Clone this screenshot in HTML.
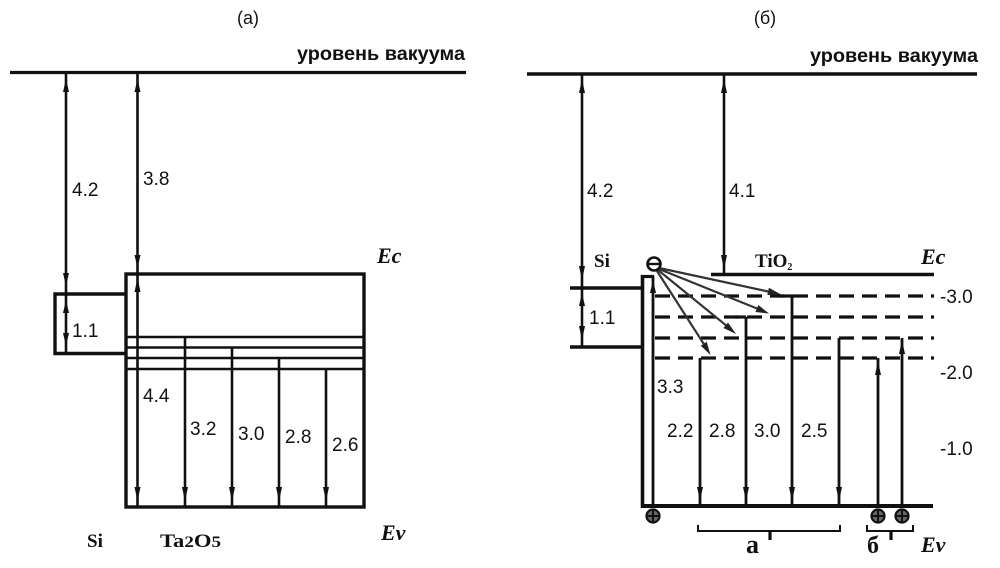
<!DOCTYPE html>
<html><head><meta charset="utf-8">
<style>
html,body{margin:0;padding:0;background:#fff;}
svg{display:block;}
.s{font-family:"Liberation Sans",Arial,sans-serif;fill:#111;}
.r{font-family:"Liberation Serif","Times New Roman",serif;fill:#111;font-weight:bold;}
</style></head>
<body>
<svg width="1000" height="568" viewBox="0 0 1000 568" xmlns="http://www.w3.org/2000/svg">
<rect width="1000" height="568" fill="#fff"/>
<g stroke="#111" fill="none" stroke-linecap="butt">
<!-- LEFT PANEL -->
<line x1="10" y1="72.5" x2="466" y2="72.5" stroke-width="3.2"/>
<line x1="66" y1="73" x2="66" y2="354" stroke-width="2.6"/>
<line x1="137.5" y1="73" x2="137.5" y2="507" stroke-width="2.6"/>
<rect x="126" y="274" width="238" height="233" stroke-width="3.4"/>
<polyline points="126,294 55,294 55,353.5 126,353.5" stroke-width="3.4"/>
<line x1="126" y1="337" x2="364" y2="337" stroke-width="2.6"/>
<line x1="126" y1="347.5" x2="364" y2="347.5" stroke-width="2.6"/>
<line x1="126" y1="358" x2="364" y2="358" stroke-width="2.6"/>
<line x1="126" y1="369" x2="364" y2="369" stroke-width="2.6"/>
<line x1="185" y1="337" x2="185" y2="507" stroke-width="2.6"/>
<line x1="232" y1="347.5" x2="232" y2="507" stroke-width="2.6"/>
<line x1="279" y1="358" x2="279" y2="507" stroke-width="2.6"/>
<line x1="326" y1="369" x2="326" y2="507" stroke-width="2.6"/>

<!-- RIGHT PANEL -->
<line x1="527" y1="74" x2="977" y2="74" stroke-width="3.4"/>
<line x1="582" y1="74" x2="582" y2="347" stroke-width="2.6"/>
<line x1="724" y1="74" x2="724" y2="274" stroke-width="2.6"/>
<line x1="711" y1="274.5" x2="934" y2="274.5" stroke-width="3.4"/>
<line x1="570" y1="288" x2="643" y2="288" stroke-width="3.4"/>
<line x1="570" y1="347" x2="643" y2="347" stroke-width="3.4"/>
<line x1="642.5" y1="275" x2="642.5" y2="508" stroke-width="3.6"/>
<line x1="641" y1="276.5" x2="654" y2="276.5" stroke-width="3.2"/>
<line x1="653" y1="276" x2="653" y2="507" stroke-width="2.8"/>
<g stroke-width="3.2" stroke-dasharray="15 8">
<line x1="655" y1="296" x2="934" y2="296"/>
<line x1="655" y1="317" x2="934" y2="317"/>
<line x1="655" y1="338" x2="934" y2="338"/>
<line x1="655" y1="358" x2="934" y2="358"/>
</g>
<line x1="780" y1="296" x2="793" y2="296" stroke-width="3.2"/>
<line x1="735" y1="317" x2="746" y2="317" stroke-width="3.2"/>
<line x1="700" y1="358" x2="700" y2="506" stroke-width="2.8"/>
<line x1="746" y1="317" x2="746" y2="506" stroke-width="2.8"/>
<line x1="792" y1="296" x2="792" y2="506" stroke-width="2.8"/>
<line x1="839" y1="338" x2="839" y2="506" stroke-width="2.8"/>
<line x1="878" y1="358" x2="878" y2="506" stroke-width="2.8"/>
<line x1="902" y1="338" x2="902" y2="506" stroke-width="2.8"/>
<line x1="641" y1="506" x2="933" y2="506" stroke-width="4"/>
<!-- diagonal arrows -->
<g stroke="#333" stroke-width="2.2">
<line x1="659" y1="268" x2="768" y2="291.5"/>
<line x1="659" y1="269" x2="757" y2="308.5"/>
<line x1="658" y1="270" x2="726" y2="325.3"/>
<line x1="657" y1="271" x2="703.7" y2="343.8"/>
</g>
<!-- braces -->
<polyline points="698,525 698,531 840,531 840,525" stroke-width="2"/>
<line x1="770" y1="531" x2="770" y2="540" stroke-width="3.2"/>
<polyline points="867,525 867,531 913,531 913,525" stroke-width="2"/>
<line x1="891" y1="531" x2="891" y2="540" stroke-width="3.2"/>
<!-- circles -->
<circle cx="654" cy="264" r="6.5" stroke-width="2.6" fill="#fff"/>
<line x1="648.5" y1="264" x2="659.5" y2="264" stroke-width="2.4"/>
<g stroke-width="2.2" fill="#666">
<circle cx="653" cy="516" r="6.5"/>
<circle cx="878" cy="516" r="6.5"/>
<circle cx="902" cy="516" r="6.5"/>
</g>
<g stroke-width="2">
<line x1="647" y1="516" x2="659" y2="516"/><line x1="653" y1="510" x2="653" y2="522"/>
<line x1="872" y1="516" x2="884" y2="516"/><line x1="878" y1="510" x2="878" y2="522"/>
<line x1="896" y1="516" x2="908" y2="516"/><line x1="902" y1="510" x2="902" y2="522"/>
</g>
</g>

<!-- arrowheads -->
<g fill="#111">
<!-- left -->
<polygon points="66,79 63,92 69,92"/>
<polygon points="66,286 63,273 69,273"/>
<polygon points="66,300 63,313 69,313"/>
<polygon points="66,346 63,333 69,333"/>
<polygon points="137.5,79 134.5,92 140.5,92"/>
<polygon points="137.5,268 134.5,255 140.5,255"/>
<polygon points="137.5,278 134.5,292 140.5,292"/>
<polygon points="137.5,501 134.5,487 140.5,487"/>
<polygon points="185,501 182,487 188,487"/>
<polygon points="232,501 229,487 235,487"/>
<polygon points="279,501 276,487 282,487"/>
<polygon points="326,501 323,487 329,487"/>
<!-- right -->
<polygon points="582,79 579,93 585,93"/>
<polygon points="582,280 579,266 585,266"/>
<polygon points="582,293 579,306 585,306"/>
<polygon points="582,340 579,326 585,326"/>
<polygon points="724,79 721,93 727,93"/>
<polygon points="724,269 721,255 727,255"/>
<polygon points="653,280 650,293 656,293"/>
<polygon points="700,501 697,487 703,487"/>
<polygon points="746,501 743,487 749,487"/>
<polygon points="792,501 789,487 795,487"/>
<polygon points="839,501 836,487 842,487"/>
<polygon points="878,361 875,375 881,375"/>
<polygon points="902,340 899,354 905,354"/>
<polygon points="781,294.5 767.3,295 768.9,287.8" fill="#222"/>
<polygon points="769,313.5 755.5,312 758.3,305" fill="#222"/>
<polygon points="736,334 723.5,328 728,322.5" fill="#222"/>
<polygon points="710.5,355 700.8,345.8 706.7,341.8" fill="#222"/>
</g>

<!-- TEXT LEFT -->
<text class="s" x="248" y="24" font-size="18" text-anchor="middle">(a)</text>
<text class="s" x="465" y="60" font-size="19" font-weight="bold" text-anchor="end" textLength="168" lengthAdjust="spacingAndGlyphs">уровень вакуума</text>
<text class="s" x="72" y="196" font-size="19">4.2</text>
<text class="s" x="143" y="185" font-size="19">3.8</text>
<text class="s" x="72" y="337" font-size="19">1.1</text>
<text class="s" x="143" y="402" font-size="19">4.4</text>
<text class="s" x="190" y="435" font-size="19">3.2</text>
<text class="s" x="238" y="440" font-size="19">3.0</text>
<text class="s" x="285" y="443" font-size="19">2.8</text>
<text class="s" x="332" y="451" font-size="19">2.6</text>
<text class="r" x="377" y="263" font-size="22" font-style="italic">Ec</text>
<text class="r" x="381" y="540" font-size="22" font-style="italic">Ev</text>
<text class="r" x="87" y="547" font-size="19">Si</text>
<text class="r" x="160" y="547" font-size="19" textLength="61" lengthAdjust="spacingAndGlyphs">Ta<tspan font-size="16">2</tspan>O<tspan font-size="16">5</tspan></text>

<!-- TEXT RIGHT -->
<text class="s" x="765" y="24" font-size="18" text-anchor="middle">(б)</text>
<text class="s" x="978" y="62" font-size="19" font-weight="bold" text-anchor="end" textLength="168" lengthAdjust="spacingAndGlyphs">уровень вакуума</text>
<text class="s" x="587" y="197" font-size="19">4.2</text>
<text class="s" x="729" y="197" font-size="19">4.1</text>
<text class="s" x="589" y="324" font-size="19">1.1</text>
<text class="s" x="657" y="393" font-size="19">3.3</text>
<text class="s" x="667" y="437" font-size="19">2.2</text>
<text class="s" x="709" y="437" font-size="19">2.8</text>
<text class="s" x="754" y="437" font-size="19">3.0</text>
<text class="s" x="801" y="437" font-size="19">2.5</text>
<text class="s" x="940" y="303" font-size="19">-3.0</text>
<text class="s" x="940" y="379" font-size="19">-2.0</text>
<text class="s" x="940" y="455" font-size="19">-1.0</text>
<text class="r" x="594" y="267" font-size="19">Si</text>
<text class="r" x="755" y="267" font-size="19">TiO<tspan font-size="10" dy="3">2</tspan></text>
<text class="r" x="921" y="264" font-size="22" font-style="italic">Ec</text>
<text class="r" x="921" y="552" font-size="22" font-style="italic">Ev</text>
<text class="r" x="746" y="553" font-size="26">а</text>
<text class="r" x="867" y="553" font-size="24">б</text>
</svg>
</body></html>
